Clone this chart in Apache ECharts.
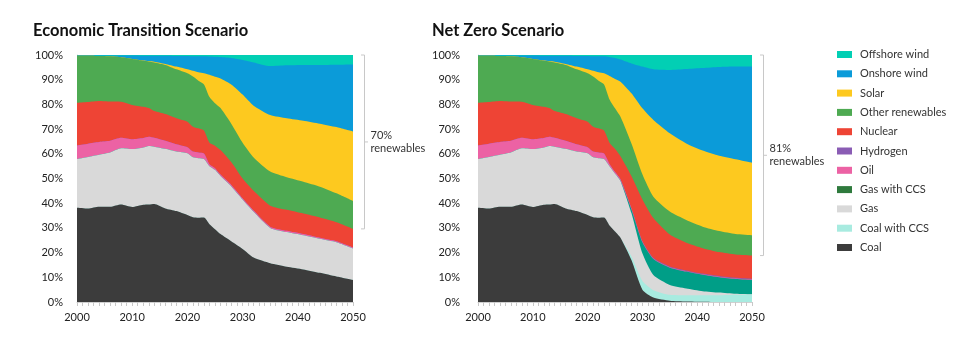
<!DOCTYPE html>
<html><head><meta charset="utf-8">
<script src="https://cdn.jsdelivr.net/npm/echarts@6/dist/echarts.min.js"></script>
<style>html,body{margin:0;padding:0;background:#fff}#c{width:980px;height:352px}</style>
</head><body><div id="c"></div>
<script>
// ---------- data ----------
const years = [2000, 2002, 2004, 2006, 2008, 2010, 2012, 2013, 2014, 2016, 2018, 2020, 2021, 2022, 2023, 2024, 2025, 2026, 2028, 2030, 2032, 2035, 2038, 2041, 2044, 2047, 2050];
const yTicks = [0, 10, 20, 30, 40, 50, 60, 70, 80, 90, 100];
const xTicks = [2000, 2010, 2020, 2030, 2040, 2050];

// Economic Transition Scenario (share of generation, %)
const etCoal      = [38.2, 37.9, 38.6, 38.6, 39.5, 38.5, 39.4, 39.5, 39.7, 37.9, 36.8, 35.2, 34.3, 34.1, 34.2, 31.5, 29.5, 27.5, 24.5, 21.5, 18.0, 15.7, 14.3, 13.2, 11.8, 10.3, 8.9];
const etCoalCcs   = [0, 0, 0, 0, 0, 0, 0, 0, 0, 0, 0, 0, 0, 0, 0, 0, 0, 0, 0, 0, 0, 0, 0, 0, 0, 0, 0];
const etGas       = [19.7, 20.8, 21.0, 21.9, 22.7, 23.4, 23.2, 23.7, 23.2, 24.1, 24.1, 25.0, 24.3, 24.1, 23.7, 23.5, 24.0, 23.5, 22.2, 20.0, 18.5, 14.3, 14.0, 13.8, 13.8, 13.9, 12.8];
const etGasCcs    = [0, 0, 0, 0, 0, 0, 0, 0, 0, 0, 0, 0, 0, 0, 0, 0, 0, 0, 0, 0, 0, 0, 0, 0, 0, 0, 0];
const etOil       = [5.5, 5.4, 5.2, 4.8, 4.3, 4.0, 3.8, 3.7, 3.6, 3.3, 3.0, 2.5, 2.3, 2.3, 2.2, 0.8, 0.7, 0.6, 0.6, 0.5, 0.5, 0.5, 0.5, 0.5, 0.4, 0.4, 0.4];
const etHydrogen  = [0, 0, 0, 0, 0, 0, 0, 0, 0, 0, 0, 0, 0, 0, 0, 0, 0, 0, 0, 0, 0, 0, 0, 0, 0, 0, 0];
const etNuclear   = [17.3, 16.9, 16.6, 15.9, 14.6, 13.9, 12.6, 11.6, 10.8, 10.8, 10.5, 10.3, 10.1, 9.8, 9.3, 8.7, 9.1, 9.9, 9.2, 8.0, 8.0, 8.5, 8.5, 8.3, 8.2, 7.7, 7.5];
const etOther     = [19.0, 18.7, 18.2, 18.3, 18.0, 18.6, 18.7, 18.9, 19.7, 19.9, 19.8, 19.6, 20.3, 19.3, 18.7, 18.5, 17.2, 17.0, 15.5, 14.5, 13.5, 13.8, 13.2, 12.9, 12.5, 11.7, 11.3];
const etSolar     = [0, 0, 0, 0, 0, 0, 0.1, 0.2, 0.3, 0.4, 1.1, 1.6, 2.3, 3.4, 4.5, 9.0, 10.7, 12.0, 16.0, 19.5, 21.0, 22.9, 23.9, 24.7, 25.5, 26.8, 28.1];
const etOnshore   = [0.2, 0.2, 0.2, 0.3, 0.7, 1.4, 1.9, 2.1, 2.4, 3.3, 4.3, 5.4, 5.9, 6.5, 6.9, 7.4, 8.1, 8.7, 10.8, 14.0, 17.5, 19.8, 21.4, 22.6, 23.8, 25.3, 27.2];
const etOffshore  = [0.1, 0.1, 0.2, 0.2, 0.2, 0.2, 0.3, 0.3, 0.3, 0.3, 0.4, 0.4, 0.5, 0.5, 0.5, 0.6, 0.7, 0.8, 1.2, 2.0, 3.0, 4.5, 4.2, 4.0, 4.0, 3.9, 3.8];

// Net Zero Scenario (share of generation, %)
const nzCoal      = [38.2, 37.9, 38.6, 38.6, 39.5, 38.5, 39.4, 39.5, 39.7, 37.9, 36.8, 35.2, 34.3, 34.1, 34.2, 31.0, 28.5, 26.0, 17.0, 5.0, 1.8, 0.5, 0.2, 0.1, 0, 0, 0];
const nzCoalCcs   = [0, 0, 0, 0, 0, 0, 0, 0, 0, 0, 0, 0, 0, 0, 0, 0, 0, 0, 1.5, 3.5, 3.0, 2.4, 2.5, 2.6, 2.7, 2.9, 3.0];
const nzGas       = [19.7, 20.8, 21.0, 21.9, 22.7, 23.4, 23.2, 23.7, 23.2, 24.1, 24.1, 25.0, 24.3, 24.1, 23.7, 24.0, 23.5, 23.0, 17.5, 11.2, 6.1, 4.0, 2.8, 1.7, 1.1, 0.4, 0.1];
const nzGasCcs    = [0, 0, 0, 0, 0, 0, 0, 0, 0, 0, 0, 0, 0, 0, 0, 0, 0, 0.1, 1.5, 4.5, 6.5, 7.0, 6.8, 6.6, 6.2, 6.0, 5.8];
const nzOil       = [5.5, 5.4, 5.2, 4.8, 4.3, 4.0, 3.8, 3.7, 3.6, 3.3, 3.0, 2.5, 2.3, 2.3, 2.2, 0.9, 0.7, 0.6, 0.4, 0.3, 0.2, 0.2, 0.2, 0.2, 0.2, 0.2, 0.2];
const nzHydrogen  = [0, 0, 0, 0, 0, 0, 0, 0, 0, 0, 0, 0, 0, 0, 0, 0, 0, 0, 0.1, 0.2, 0.3, 0.3, 0.3, 0.3, 0.3, 0.3, 0.3];
const nzNuclear   = [17.3, 16.9, 16.6, 15.9, 14.6, 13.9, 12.6, 11.6, 10.8, 10.8, 10.5, 10.3, 10.1, 9.8, 9.3, 8.6, 9.3, 9.3, 13.0, 16.8, 16.1, 12.9, 11.2, 10.3, 9.7, 9.4, 9.4];
const nzOther     = [19.0, 18.7, 18.2, 18.3, 18.0, 18.6, 18.7, 18.9, 19.7, 19.9, 19.8, 19.6, 20.3, 19.3, 18.7, 17.5, 16.4, 16.0, 13.2, 10.2, 8.6, 9.3, 9.2, 8.7, 8.5, 8.3, 8.2];
const nzSolar     = [0, 0, 0, 0, 0, 0, 0.1, 0.2, 0.3, 0.4, 1.1, 1.6, 2.3, 3.4, 4.5, 9.5, 11.9, 14.2, 20.3, 26.7, 31.1, 31.7, 31.0, 30.8, 30.5, 30.3, 29.4];
const nzOnshore   = [0.2, 0.2, 0.2, 0.3, 0.7, 1.4, 1.9, 2.1, 2.4, 3.3, 4.3, 5.4, 5.9, 6.5, 6.9, 7.7, 8.5, 9.0, 12.1, 16.9, 20.5, 25.6, 30.1, 33.4, 35.9, 37.5, 38.9];
const nzOffshore  = [0.1, 0.1, 0.2, 0.2, 0.2, 0.2, 0.3, 0.3, 0.3, 0.3, 0.4, 0.4, 0.5, 0.5, 0.5, 0.8, 1.2, 1.8, 3.4, 4.7, 5.8, 6.1, 5.7, 5.3, 4.9, 4.7, 4.7];

const seriesNames = ['Coal', 'Coal with CCS', 'Gas', 'Gas with CCS', 'Oil', 'Hydrogen', 'Nuclear', 'Other renewables', 'Solar', 'Onshore wind', 'Offshore wind'];
const renewableNames = ['Other renewables', 'Solar', 'Onshore wind', 'Offshore wind'];
const chartTitles = ['Economic Transition Scenario', 'Net Zero Scenario'];
const bracketLabels = ['70%\nrenewables', '81%\nrenewables'];

// ---------- styles ----------
const areaColors = {
  'Coal': '#3c3c3c', 'Coal with CCS': '#a8ebe0', 'Gas': '#d9d9d9', 'Gas with CCS': '#009e87',
  'Oil': '#ec62a4', 'Hydrogen': '#8a5cb4', 'Nuclear': '#ee4435', 'Other renewables': '#4eaa52',
  'Solar': '#fdc91f', 'Onshore wind': '#0b9bd9', 'Offshore wind': '#02cfb4'
};
const legendColors = Object.assign({}, areaColors, {'Gas with CCS': '#2f7a3d'});
const FONT = 'Lato, "Open Sans", sans-serif';

const scenarios = [
  [etCoal, etCoalCcs, etGas, etGasCcs, etOil, etHydrogen, etNuclear, etOther, etSolar, etOnshore, etOffshore],
  [nzCoal, nzCoalCcs, nzGas, nzGasCcs, nzOil, nzHydrogen, nzNuclear, nzOther, nzSolar, nzOnshore, nzOffshore]
];

const grids = [
  {left: 77, width: 276, top: 55, bottom: 50},
  {left: 478, width: 274, top: 55, bottom: 50}
];

// Stack the layers (running sums), then draw the top layer first
// so each lower layer is painted over the ones above it.
const series = [];
scenarios.forEach((arrs, g) => {
  const cum = [];
  arrs.forEach((arr, k) => {
    cum.push(arr.map((v, i) => (k ? cum[k - 1][i] : 0) + v));
  });
  for (let k = arrs.length - 1; k >= 0; k--) {
    const name = seriesNames[k];
    series.push({
      name: name, type: 'line',
      xAxisIndex: g, yAxisIndex: g,
      symbol: 'none', smooth: 0.2,
      lineStyle: {width: 0, opacity: 0},
      itemStyle: {color: areaColors[name]},
      areaStyle: {color: areaColors[name], opacity: 1, origin: 'start'},
      data: years.map((y, i) => [y, +cum[k][i].toFixed(3)]),
      z: 2
    });
  }
});

const chart = echarts.init(document.getElementById('c'), null, {renderer: 'canvas'});
chart.setOption({
  animation: false,
  backgroundColor: '#fff',
  textStyle: {fontFamily: FONT},
  title: [
    {text: chartTitles[0], left: 28, top: 17, textStyle: {fontSize: 16.5, fontWeight: 'bold', color: '#111', fontFamily: FONT}},
    {text: chartTitles[1], left: 427, top: 17, textStyle: {fontSize: 16.5, fontWeight: 'bold', color: '#111', fontFamily: FONT}}
  ],
  legend: {
    orient: 'vertical', left: 837, top: 48, padding: 0,
    itemWidth: 15, itemHeight: 7, itemGap: 6.3, icon: 'rect',
    selectedMode: false,
    textStyle: {fontSize: 11, color: '#333', fontFamily: FONT, lineHeight: 13, padding: [0, 0, 0, 3]},
    data: seriesNames.slice().reverse().map(n => ({name: n, icon: 'rect', itemStyle: {color: legendColors[n]}}))
  },
  grid: grids.map(g => Object.assign({outerBoundsMode: 'none', containLabel: false}, g)),
  xAxis: grids.map((g, i) => ({
    type: 'value', gridIndex: i, min: xTicks[0], max: xTicks[xTicks.length - 1], interval: 10,
    axisLine: {show: true, lineStyle: {color: '#d0d0d0', width: 1}},
    axisTick: {show: true, length: 4, lineStyle: {color: '#c8c8c8'}},
    minorTick: {show: true, splitNumber: 10, length: 4, lineStyle: {color: '#c8c8c8'}},
    splitLine: {show: false},
    axisLabel: {fontSize: 11, color: '#222', margin: 10, fontFamily: FONT, formatter: v => String(v)}
  })),
  yAxis: grids.map((g, i) => ({
    type: 'value', gridIndex: i, min: yTicks[0], max: yTicks[yTicks.length - 1], interval: 10,
    axisLine: {show: true, lineStyle: {color: '#d8d8d8', width: 1}},
    axisTick: {show: false},
    splitLine: {show: false},
    axisLabel: {fontSize: 11, color: '#222', margin: i === 0 ? 14 : 18, fontFamily: FONT, formatter: '{value}%'}
  })),
  series: series
});

// renewables brackets derived from the data at the final year
const graphics = [];
scenarios.forEach((arrs, g) => {
  const last = years.length - 1;
  let nonRen = 0;
  arrs.forEach((arr, k) => { if (renewableNames.indexOf(seriesNames[k]) < 0) nonRen += arr[last]; });
  const top = chart.convertToPixel({gridIndex: g}, [years[last], 100]);
  const bot = chart.convertToPixel({gridIndex: g}, [years[last], nonRen]);
  const x = Math.round(top[0] + 11) + 0.5;
  const yT = top[1], yB = bot[1], yM = (yT + yB) / 2;
  graphics.push({
    type: 'polyline', silent: true,
    shape: {points: [[x - 3.5, yT], [x, yT], [x, yB], [x - 3.5, yB]]},
    style: {stroke: '#c8c8c8', lineWidth: 1, fill: null}
  });
  graphics.push({
    type: 'line', silent: true,
    shape: {x1: x, y1: yM, x2: x + 3.5, y2: yM},
    style: {stroke: '#c8c8c8', lineWidth: 1}
  });
  graphics.push({
    type: 'text', silent: true, x: x + 6, y: yM,
    style: {text: bracketLabels[g], fill: '#333', font: '11px ' + FONT, lineHeight: 13, verticalAlign: 'middle', align: 'left'}
  });
});
chart.setOption({graphic: graphics});
</script></body></html>
